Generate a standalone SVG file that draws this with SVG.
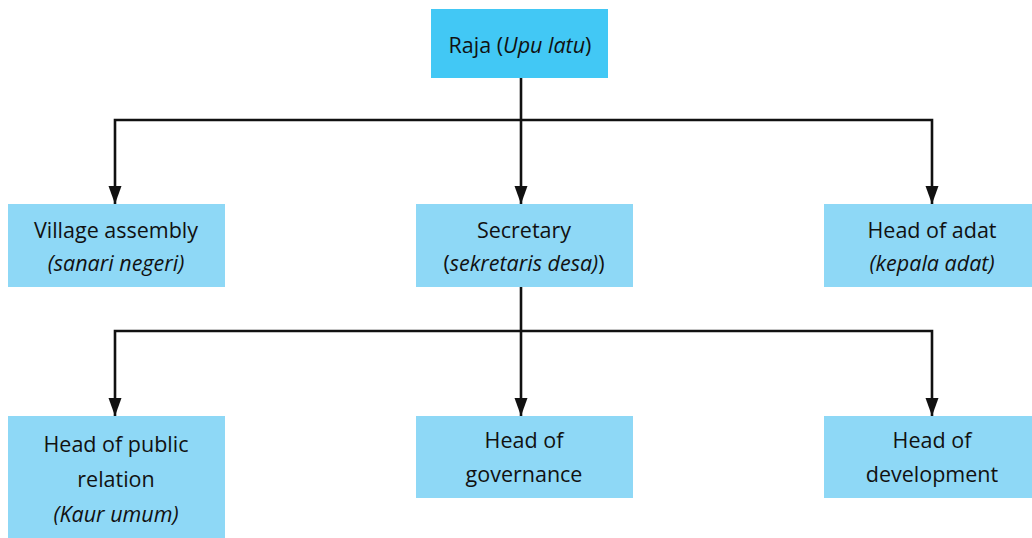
<svg xmlns="http://www.w3.org/2000/svg" width="1032" height="538" viewBox="0 0 1032 538">
  <style>
    .top { fill: #42c8f5; }
    .box { fill: #8ed8f6; }
    .lbl { font-family: "Open Sans", "Noto Sans", sans-serif; font-size: 21.5px; fill: #111; text-anchor: middle; }
    .it { font-style: italic; }
    .wire { fill: none; stroke: #111; stroke-width: 2.6; }
  </style>
  <defs>
    <marker id="head" markerUnits="userSpaceOnUse" markerWidth="20" markerHeight="14" refX="18" refY="7" orient="auto">
      <path d="M0,0.5 L18,7 L0,13.5 Z" fill="#111"/>
    </marker>
  </defs>

  <g id="connectors">
    <!-- Raja to first tier -->
    <path class="wire" d="M521,78 V120"/>
    <path class="wire" d="M521,120 H115 V204" marker-end="url(#head)"/>
    <path class="wire" d="M521,120 H932 V204" marker-end="url(#head)"/>
    <path class="wire" d="M521,120 V204" marker-end="url(#head)"/>
    <!-- Secretary to second tier -->
    <path class="wire" d="M521,287 V331"/>
    <path class="wire" d="M521,331 H115 V416" marker-end="url(#head)"/>
    <path class="wire" d="M521,331 H932 V416" marker-end="url(#head)"/>
    <path class="wire" d="M521,331 V416" marker-end="url(#head)"/>
  </g>

  <g id="raja">
    <rect class="top" x="431" y="9" width="177" height="69"/>
    <text class="lbl" x="520" y="53">Raja (<tspan class="it">Upu latu</tspan>)</text>
  </g>

  <g id="village-assembly">
    <rect class="box" x="8" y="204" width="217" height="83"/>
    <text class="lbl" x="116" y="238">Village assembly</text>
    <text class="lbl it" x="116" y="271">(sanari negeri)</text>
  </g>

  <g id="secretary">
    <rect class="box" x="416" y="204" width="217" height="83"/>
    <text class="lbl" x="524" y="238">Secretary</text>
    <text class="lbl" x="524" y="271">(<tspan class="it">sekretaris desa)</tspan>)</text>
  </g>

  <g id="head-of-adat">
    <rect class="box" x="824" y="204" width="208" height="83"/>
    <text class="lbl" x="932" y="238">Head of adat</text>
    <text class="lbl it" x="932" y="271">(kepala adat)</text>
  </g>

  <g id="head-of-public-relation">
    <rect class="box" x="8" y="416" width="217" height="122"/>
    <text class="lbl" x="116" y="452">Head of public</text>
    <text class="lbl" x="116" y="487">relation</text>
    <text class="lbl it" x="116" y="522">(Kaur umum)</text>
  </g>

  <g id="head-of-governance">
    <rect class="box" x="416" y="416" width="217" height="82"/>
    <text class="lbl" x="524" y="448">Head of</text>
    <text class="lbl" x="524" y="482">governance</text>
  </g>

  <g id="head-of-development">
    <rect class="box" x="824" y="416" width="208" height="82"/>
    <text class="lbl" x="932" y="448">Head of</text>
    <text class="lbl" x="932" y="482">development</text>
  </g>
</svg>
